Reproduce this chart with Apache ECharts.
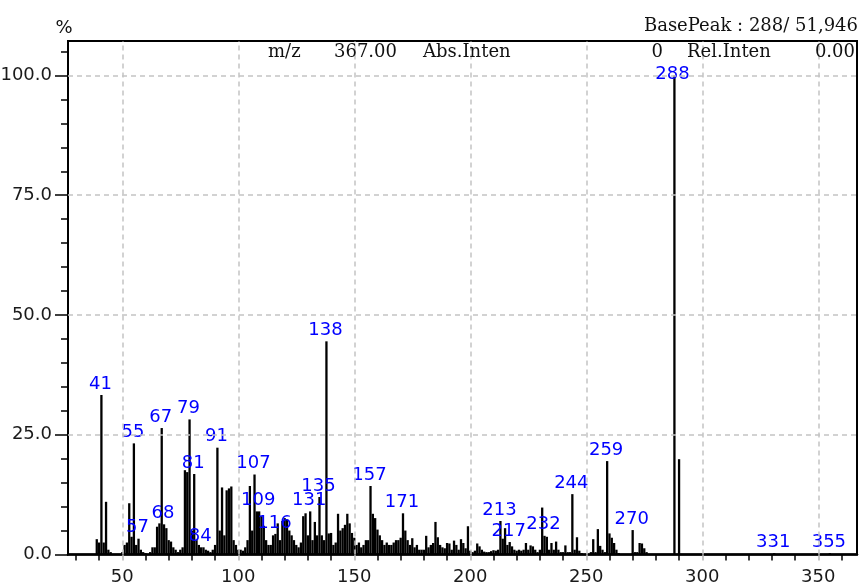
<!DOCTYPE html>
<html><head><meta charset="utf-8">
<script src="https://cdn.jsdelivr.net/npm/echarts@6/dist/echarts.min.js"></script>
<style>html,body{margin:0;padding:0;background:#fff}#c{width:861px;height:588px}</style>
</head><body><div id="c"></div>
<script>
// m/z values and their relative intensities (%)
const mzValues = [
  39,40,41,42,43,44,45,
  50,51,52,53,54,55,56,57,58,59,60,
  62,63,64,65,66,67,68,69,70,71,72,73,74,75,76,
  77,78,79,80,81,82,83,84,85,86,87,88,89,90,
  91,92,93,94,95,96,97,98,99,100,101,102,103,104,
  105,106,107,108,109,110,111,112,113,114,115,116,117,118,119,120,121,122,123,124,125,126,127,128,129,130,
  131,132,133,134,135,136,137,138,139,140,141,142,143,144,145,146,147,148,149,150,
  151,152,153,154,155,156,157,158,159,160,161,162,163,164,165,166,167,168,169,170,
  171,172,173,174,175,176,177,178,179,180,181,182,183,184,185,186,187,188,189,190,
  191,192,193,194,195,196,197,198,199,200,201,202,203,204,205,206,207,208,209,210,
  211,212,213,214,215,216,217,218,219,220,221,222,223,224,225,226,227,228,229,230,
  231,232,233,234,235,236,237,238,239,240,241,242,243,244,245,246,247,248,
  252,253,254,255,256,257,258,259,260,261,262,263,264,
  270,271,272,273,274,275,276,
  288,290,331,355
];
const intensities = [
  3.2,2.5,33.3,2.5,11.0,1.0,0.5,
  0.5,2.0,2.5,10.7,3.7,23.2,2.0,3.3,1.0,0.5,0.3,
  0.5,1.5,1.5,5.8,6.5,26.4,6.3,5.5,3.0,2.7,1.5,1.0,0.5,1.0,1.5,
  17.6,17.2,28.2,5.0,16.8,3.0,2.0,1.5,1.5,1.0,0.8,0.5,1.0,2.0,
  22.3,5.0,14.0,4.0,13.4,13.8,14.2,3.0,2.0,1.0,1.0,0.8,1.5,3.0,
  14.3,5.0,16.7,9.0,9.0,8.0,6.0,3.0,2.0,2.0,4.0,4.3,6.5,3.0,7.0,7.6,7.3,5.0,4.0,3.0,2.0,1.5,2.5,8.0,8.6,4.0,
  9.0,3.0,6.8,4.0,12.0,4.0,3.0,44.5,4.4,4.5,2.0,2.5,8.5,5.0,5.5,6.2,8.5,6.5,4.5,3.5,
  2.0,2.5,1.5,2.0,3.0,3.0,14.3,8.5,7.6,5.2,4.0,3.0,2.0,2.5,2.0,2.0,2.5,3.0,3.0,3.5,
  8.6,5.0,3.0,2.0,3.4,1.5,2.0,1.0,1.0,1.0,3.9,1.5,2.0,2.4,6.8,3.6,2.0,1.5,1.3,2.4,
  2.3,1.0,2.9,2.0,1.0,3.2,2.4,1.3,5.9,0.8,0.5,0.8,2.3,1.7,1.0,0.6,0.5,0.5,0.7,0.9,
  0.8,1.0,7.0,3.3,5.5,2.0,2.6,1.7,1.0,0.8,1.0,0.8,1.0,2.4,1.0,1.9,1.7,1.0,0.5,1.0,
  9.8,3.9,3.7,1.0,2.4,1.0,2.7,1.0,0.5,0.5,1.9,0.5,0.5,12.6,1.0,3.6,0.8,0.3,
  0.5,3.2,0.5,5.3,1.8,1.0,0.5,19.5,4.4,3.5,2.4,1.0,0.3,
  5.1,0.5,0.5,2.4,2.3,1.3,0.5,
  100,19.9,0.3,0.3
];
const labeledPeaks = [41,55,57,67,68,79,81,84,91,107,109,116,131,135,138,157,171,213,217,232,244,259,270,288,331,355];
const xTickLabels = [50,100,150,200,250,300,350];
const xMinorTicks = [30,40,60,70,80,90,110,120,130,140,160,170,180,190,210,220,230,240,260,270,280,290,310,320,330,340,360];
const yTickLabels = [0,25,50,75,100];
const yMinorTicks = [5,10,15,20,30,35,40,45,55,60,65,70,80,85,90,95,105];
const basePeakText = 'BasePeak : 288/ 51,946';
const headerItems = [['m/z','left',268],['367.00','right',397],['Abs.Inten','left',423],['0','right',663],['Rel.Inten','left',687],['0.00','right',855]];

const X_MIN = 26.6, X_MAX = 366.7, Y_MAX = 107.2;
const chart = echarts.init(document.getElementById('c'), null, {renderer: 'canvas'});
const labelFont = {fontFamily: 'DejaVu Sans', fontSize: 18};

chart.setOption({
  animation: false,
  backgroundColor: '#fff',
  grid: {left: 68, right: 4, top: 41, bottom: 33.5, show: true, borderColor: '#000', borderWidth: 2, backgroundColor: 'transparent', outerBoundsMode: 'none'},
  xAxis: [
    {type: 'value', min: X_MIN, max: X_MAX, position: 'bottom',
     axisLine: {show: true, onZero: false, lineStyle: {color: '#000', width: 2.5}},
     axisTick: {show: true, customValues: xTickLabels, length: 6, lineStyle: {color: '#b4b4b4', width: 1.5}},
     axisLabel: {show: true, customValues: xTickLabels, margin: 14, color: '#1a1a1a', ...labelFont},
     splitLine: {show: false}},
    {type: 'value', min: X_MIN, max: X_MAX, position: 'bottom',
     axisLine: {show: false},
     axisTick: {show: true, customValues: xMinorTicks, length: 6, lineStyle: {color: '#000', width: 1.5}},
     axisLabel: {show: false}, splitLine: {show: false}}
  ],
  yAxis: [
    {type: 'value', min: 0, max: Y_MAX, position: 'left',
     axisLine: {show: true, onZero: false, lineStyle: {color: '#000', width: 2}},
     axisTick: {show: true, customValues: yTickLabels, length: 13, lineStyle: {color: '#000', width: 1.5}},
     axisLabel: {show: true, customValues: yTickLabels, margin: 16, color: '#1a1a1a', formatter: v => Number(v).toFixed(1), ...labelFont},
     splitLine: {show: false}},
    {type: 'value', min: 0, max: Y_MAX, position: 'left',
     axisLine: {show: false},
     axisTick: {show: true, customValues: yMinorTicks, length: 7, lineStyle: {color: '#000', width: 1.5}},
     axisLabel: {show: false}, splitLine: {show: false}}
  ],
  series: [
    {type: 'line', z: 1, silent: true, data: [[X_MIN, 0]], showSymbol: false, symbol: 'none', lineStyle: {opacity: 0},
     markLine: {silent: true, symbol: 'none', animation: false,
       lineStyle: {type: [5, 4], color: '#c4c4c4', width: 1.5},
       label: {show: false},
       data: xTickLabels.map(v => ({xAxis: v})).concat(yTickLabels.filter(v => v > 0).map(v => ({yAxis: v})))}},
    {type: 'bar', z: 3, barWidth: 2.3, barGap: '0%',
     itemStyle: {color: '#000'},
     label: {show: false, position: 'top', distance: 2, offset: [-1, 0], color: '#0000ff', ...labelFont, formatter: p => String(p.value[0])},
     data: mzValues.map((m, i) => {
       const item = {value: [m, intensities[i]]};
       if (labeledPeaks.includes(m)) {
         item.label = {show: true};
         if (m === 288) item.label.offset = [-2, 10];
       }
       return item;
     })}
  ],
  graphic: [
    {type: 'text', z: 10, style: {text: '%', x: 64, y: 28, align: 'center', verticalAlign: 'middle', font: '18px "DejaVu Sans"', fill: '#111'}},
    {type: 'text', z: 10, style: {text: basePeakText, x: 858, y: 26, align: 'right', verticalAlign: 'middle', font: '18px "DejaVu Serif"', fill: '#111'}}
  ].concat(headerItems.map(h => ({type: 'text', z: 10, style: {text: h[0], x: h[2], y: 52, align: h[1], verticalAlign: 'middle', font: '18px "DejaVu Serif"', fill: '#111'}})))
});
</script></body></html>
